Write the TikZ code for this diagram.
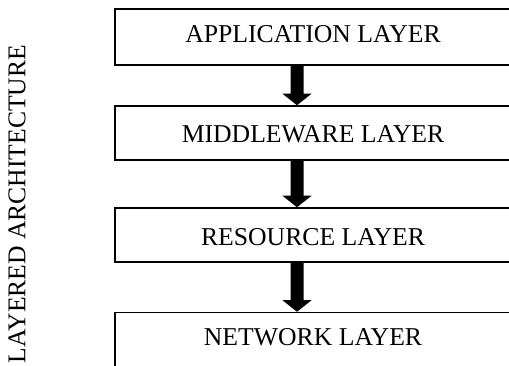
\documentclass[tikz,border=0pt]{standalone}
\usepackage{fontspec}
\setmainfont{Liberation Serif}
\usetikzlibrary{calc}
\tikzset{
  layerbox/.style={draw=black, line width=1.5pt, rectangle, inner sep=0pt,
    minimum width=396pt, font=\fontsize{25.7}{30}\selectfont},
  arrowfill/.style={fill=black},
  titletext/.style={rotate=90, inner sep=0pt, font=\fontsize{25.6}{30}\selectfont}
}
\begin{document}
\begin{tikzpicture}[x=1pt,y=-1pt]
\useasboundingbox (0,0) rectangle (509,366);
\clip (0,0) rectangle (509,366);
\fill[white] (0,0) rectangle (509,366);
\node[layerbox, minimum height=56pt, text height=16.8pt, text depth=6pt] (app) at (313,37) {APPLICATION LAYER};
\node[layerbox, minimum height=54pt, text height=19.8pt, text depth=0pt] (mid) at (313,133) {MIDDLEWARE LAYER};
\node[layerbox, minimum height=54pt, text height=21.8pt, text depth=0pt] (res) at (313,235) {RESOURCE LAYER};
\node[layerbox, minimum height=58pt, text height=16.8pt, text depth=8.6pt] (net) at (313,341.5) {NETWORK LAYER};
\node[titletext] (title) at (17,204) {LAYERED ARCHITECTURE};
\coordinate (ax) at (297,0);
\foreach \a/\b in {app/mid, mid/res, res/net}{
  \fill[arrowfill] ($(\a.south -| ax)+(-6.5,0)$) -- ($(\a.south -| ax)+(6.5,0)$)
    -- ($(\b.north -| ax)+(6.5,-11.5)$) -- ($(\b.north -| ax)+(14.5,-11.5)$)
    -- (\b.north -| ax) -- ($(\b.north -| ax)+(-14.5,-11.5)$)
    -- ($(\b.north -| ax)+(-6.5,-11.5)$) -- cycle;
}
\end{tikzpicture}
\end{document}
